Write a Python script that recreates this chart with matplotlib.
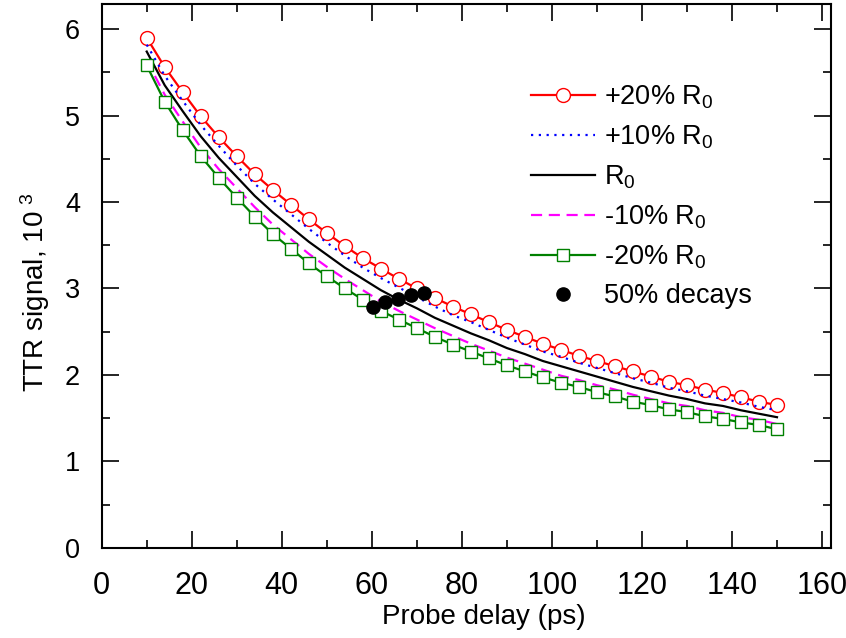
import matplotlib
matplotlib.use("Agg")
import matplotlib.pyplot as plt
from matplotlib.ticker import MultipleLocator

plt.rcParams["font.family"] = ["Liberation Sans", "DejaVu Sans"]
plt.rcParams["mathtext.default"] = "regular"

# probe delays (ps)
delay = list(range(10, 151, 4))

plus20 = [5.90, 5.56, 5.27, 4.99, 4.75, 4.53, 4.32, 4.14, 3.97, 3.80, 3.64, 3.49,
          3.35, 3.23, 3.11, 3.00, 2.89, 2.79, 2.70, 2.61, 2.52, 2.44, 2.36, 2.29,
          2.22, 2.16, 2.10, 2.04, 1.98, 1.92, 1.88, 1.83, 1.79, 1.74, 1.69, 1.65]
plus10 = [5.82, 5.46, 5.17, 4.89, 4.65, 4.42, 4.21, 4.03, 3.86, 3.69, 3.53, 3.38,
          3.24, 3.12, 3.01, 2.90, 2.79, 2.69, 2.61, 2.52, 2.43, 2.35, 2.27, 2.21,
          2.14, 2.08, 2.02, 1.96, 1.91, 1.85, 1.81, 1.76, 1.72, 1.68, 1.63, 1.59]
r0 = [5.74, 5.35, 5.05, 4.76, 4.51, 4.29, 4.07, 3.88, 3.71, 3.54, 3.39, 3.24,
      3.11, 2.98, 2.87, 2.77, 2.66, 2.57, 2.48, 2.40, 2.31, 2.24, 2.16, 2.10,
      2.04, 1.98, 1.92, 1.86, 1.81, 1.76, 1.72, 1.67, 1.64, 1.59, 1.55, 1.51]
minus10 = [5.64, 5.24, 4.93, 4.63, 4.38, 4.16, 3.94, 3.74, 3.57, 3.40, 3.25, 3.11,
           2.98, 2.85, 2.74, 2.64, 2.54, 2.45, 2.36, 2.28, 2.20, 2.13, 2.06, 1.99,
           1.94, 1.88, 1.83, 1.77, 1.72, 1.67, 1.64, 1.59, 1.56, 1.51, 1.48, 1.43]
minus20 = [5.58, 5.16, 4.83, 4.53, 4.28, 4.05, 3.83, 3.63, 3.46, 3.29, 3.14, 3.00,
           2.87, 2.74, 2.64, 2.54, 2.44, 2.35, 2.27, 2.19, 2.11, 2.04, 1.97, 1.91,
           1.86, 1.80, 1.75, 1.69, 1.65, 1.60, 1.57, 1.52, 1.49, 1.45, 1.42, 1.37]

# 50% decay points
half_x = [60.2, 62.9, 65.9, 68.7, 71.7]
half_y = [2.79, 2.84, 2.88, 2.92, 2.95]

fig = plt.figure(figsize=(8.46, 6.38), dpi=100)
ax = fig.add_axes([0.1202, 0.1415, 0.8621, 0.8522])

ax.plot(delay, plus20, color="#ff0000", lw=1.6, marker="o", ms=10,
        mfc="white", mec="#ff0000", mew=1.0, label="+20% R$_0$")
ax.plot(delay, plus10, color="#0000ff", lw=1.6, dashes=(1, 2.5), label="+10% R$_0$")
ax.plot(delay, r0, color="black", lw=1.6, label="R$_0$")
ax.plot(delay, minus10, color="#ff00ff", lw=1.6, dashes=(5, 3), label="-10% R$_0$")
ax.plot(delay, minus20, color="#008000", lw=1.6, marker="s", ms=8.5,
        mfc="white", mec="#008000", mew=1.0, label="-20% R$_0$")
ax.plot(half_x, half_y, "o", color="black", ms=9.5, label="50% decays")

ax.set_xlim(0, 162)
ax.set_ylim(0, 6.29)
ax.xaxis.set_major_locator(MultipleLocator(20))
ax.xaxis.set_minor_locator(MultipleLocator(10))
ax.yaxis.set_major_locator(MultipleLocator(1))
ax.yaxis.set_minor_locator(MultipleLocator(0.5))
ax.tick_params(which="both", direction="in", top=True, right=True, width=1.2)
ax.tick_params(which="major", length=12)
ax.tick_params(which="minor", length=6)
ax.tick_params(axis="x", which="major", labelsize=22, pad=16.5)
ax.tick_params(axis="y", which="major", labelsize=19.5, pad=15.5)
for sp in ax.spines.values():
    sp.set_linewidth(1.5)

ax.set_xlabel("Probe delay (ps)", fontsize=20)
ax.xaxis.set_label_coords(0.524, -0.103)
ax.set_ylabel("TTR signal, 10$^{\\ 3}$", fontsize=20)
ax.yaxis.set_label_coords(-0.068, 0.47)

ax.legend(loc="upper left", bbox_to_anchor=(0.570, 0.879), frameon=False,
          fontsize=19.5, handlelength=2.36, handletextpad=0.33, labelspacing=0.46,
          borderpad=0)

fig.savefig("out.png", dpi=100)
